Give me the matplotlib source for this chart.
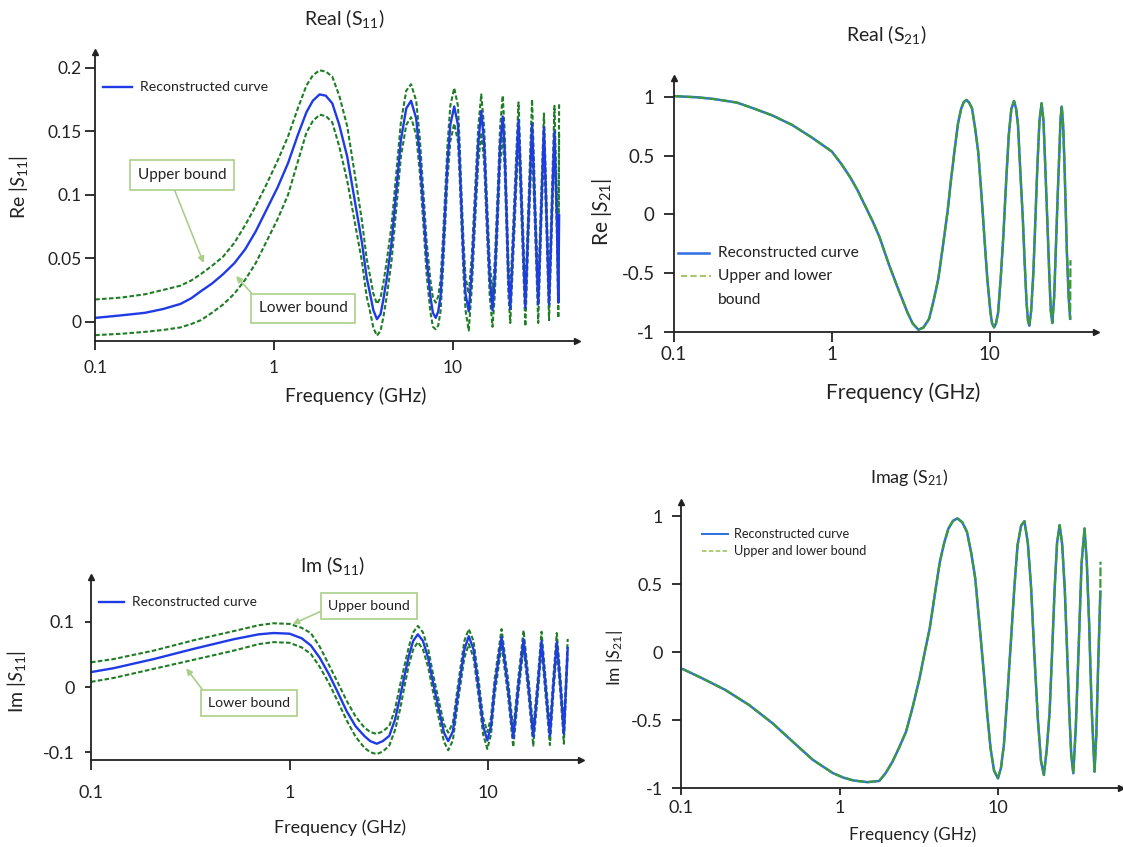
import matplotlib
matplotlib.use("Agg")
import matplotlib.pyplot as plt
from matplotlib.lines import Line2D
from matplotlib.ticker import NullLocator

W, H = 1123, 847
plt.rcParams['font.family'] = ['Lato', 'DejaVu Sans']
plt.rcParams['mathtext.fontset'] = 'custom'
plt.rcParams['mathtext.rm'] = 'Lato'
plt.rcParams['mathtext.it'] = 'Lato:italic'
plt.rcParams['mathtext.bf'] = 'Lato:bold'

# ---------------- data: Real(S11) ----------------
re11_freq = [0.10, 0.14, 0.19, 0.24, 0.30, 0.345, 0.39, 0.45, 0.52, 0.60, 0.69,
             0.79, 0.90, 1.05, 1.20, 1.36, 1.52, 1.65, 1.80, 1.95, 2.12,
             2.32, 2.57, 2.82, 3.11, 3.30, 3.45, 3.60, 3.77, 3.95, 4.10,
             4.30, 4.55, 4.85, 5.13, 5.50, 5.85, 6.25, 6.55, 6.85, 7.15,
             7.50, 7.75, 8.04, 8.30, 8.55, 8.80, 9.06, 9.35, 9.70, 10.2,
             10.7, 10.95, 11.2, 11.5, 11.8, 12.3, 12.8, 13.3, 13.9, 14.45,
             15.0, 15.5, 16.1, 16.7, 17.2, 17.8, 18.4, 19.05, 19.5, 20.0,
             20.5, 21.0, 22.15, 23.35, 24.4, 25.5, 26.6, 27.8, 28.9, 30.1,
             31.2, 32.4, 33.5, 34.6, 35.8, 37.1, 38.3, 39.0, 39.4]
re11_recon = [0.003, 0.005, 0.007, 0.010, 0.014, 0.0185, 0.024, 0.030, 0.0375, 0.046, 0.057,
              0.071, 0.087, 0.106, 0.125, 0.147, 0.165, 0.174, 0.179, 0.178, 0.172,
              0.155, 0.130, 0.097, 0.062, 0.035, 0.022, 0.009, 0.002, 0.006, 0.018,
              0.036, 0.062, 0.105, 0.143, 0.168, 0.174, 0.160, 0.130, 0.090, 0.050,
              0.020, 0.007, 0.003, 0.008, 0.020, 0.050, 0.086, 0.125, 0.155, 0.1695,
              0.155, 0.125, 0.089, 0.050, 0.022, 0.008, 0.040, 0.087, 0.140, 0.166,
              0.140, 0.088, 0.035, 0.009, 0.035, 0.085, 0.138, 0.1616, 0.138, 0.086,
              0.035, 0.010, 0.085, 0.1587, 0.085, 0.011, 0.084, 0.156, 0.085, 0.0136,
              0.083, 0.153, 0.083, 0.0136, 0.082, 0.150, 0.080, 0.015, 0.084]
re11_upper = [0.0175, 0.019, 0.0216, 0.025, 0.0284, 0.0325, 0.0375, 0.044, 0.0513, 0.062, 0.076,
              0.091, 0.107, 0.127, 0.146, 0.168, 0.186, 0.194, 0.198, 0.197, 0.193,
              0.178, 0.154, 0.118, 0.079, 0.050, 0.036, 0.022, 0.014, 0.019, 0.031,
              0.050, 0.076, 0.119, 0.157, 0.182, 0.187, 0.174, 0.144, 0.103, 0.063,
              0.033, 0.019, 0.015, 0.020, 0.033, 0.063, 0.099, 0.139, 0.170, 0.184,
              0.170, 0.139, 0.102, 0.063, 0.035, 0.022, 0.053, 0.100, 0.153, 0.179,
              0.153, 0.101, 0.048, 0.022, 0.048, 0.098, 0.152, 0.178, 0.152, 0.099,
              0.048, 0.022, 0.098, 0.1727, 0.098, 0.022, 0.097, 0.175, 0.098, 0.025,
              0.096, 0.164, 0.096, 0.025, 0.095, 0.170, 0.093, 0.027, 0.173]
re11_lower = [-0.0106, -0.0095, -0.008, -0.0065, -0.0045, -0.0018, 0.0012, 0.007, 0.0136, 0.022, 0.033,
              0.046, 0.062, 0.081, 0.100, 0.126, 0.149, 0.158, 0.163, 0.162, 0.157,
              0.138, 0.111, 0.080, 0.047, 0.020, 0.008, -0.005, -0.011, -0.007, 0.004,
              0.022, 0.048, 0.091, 0.130, 0.155, 0.161, 0.147, 0.117, 0.077, 0.037,
              0.008, -0.004, -0.006, -0.003, 0.008, 0.037, 0.073, 0.112, 0.142, 0.156,
              0.142, 0.112, 0.076, 0.037, 0.009, -0.007, 0.027, 0.074, 0.125, 0.149,
              0.125, 0.075, 0.021, -0.004, 0.021, 0.072, 0.123, 0.146, 0.123, 0.073,
              0.021, -0.001, 0.072, 0.1458, 0.072, -0.0036, 0.071, 0.142, 0.072, -0.001,
              0.070, 0.138, 0.070, 0.0012, 0.069, 0.142, 0.067, 0.003, 0.150]

# ---------------- data: Real(S21) ----------------
re21_freq = [0.10, 0.14, 0.18, 0.25, 0.318, 0.42, 0.56, 0.75, 1.00, 1.15,
             1.31, 1.45, 1.58, 1.82, 2.00, 2.31, 2.63, 3.01, 3.25, 3.53,
             3.80, 4.13, 4.40, 4.72, 5.05, 5.40, 5.70, 6.04, 6.30, 6.60,
             6.85, 7.13, 7.40, 7.72, 8.05, 8.45, 8.85, 9.23, 9.65, 10.1,
             10.35, 10.65, 10.95, 11.3, 11.75, 12.2, 12.7, 13.2, 13.7, 14.25,
             14.7, 15.1, 15.6, 16.2, 16.65, 17.1, 17.45, 17.8, 18.3, 18.9,
             19.45, 20.0, 20.65, 21.3, 21.9, 22.5, 23.15, 23.8, 24.35, 24.9,
             25.6, 26.4, 27.0, 27.6, 28.1, 28.6, 29.2, 29.8, 30.8, 31.6,
             32.3]
re21_recon = [1.01, 1.00, 0.985, 0.955, 0.906, 0.845, 0.764, 0.655, 0.537, 0.43,
              0.315, 0.21, 0.107, -0.063, -0.19, -0.435, -0.635, -0.835, -0.93, -0.983,
              -0.965, -0.89, -0.74, -0.55, -0.27, 0.02, 0.31, 0.59, 0.78, 0.906,
              0.96, 0.977, 0.955, 0.906, 0.75, 0.535, 0.18, -0.178, -0.55, -0.835,
              -0.93, -0.963, -0.93, -0.835, -0.53, -0.178, 0.28, 0.678, 0.9, 0.969,
              0.9, 0.763, 0.38, -0.036, -0.42, -0.749, -0.9, -0.949, -0.82, -0.49,
              -0.05, 0.392, 0.8, 0.949, 0.8, 0.392, -0.05, -0.49, -0.82, -0.926,
              -0.7, -0.178, 0.2, 0.535, 0.82, 0.92, 0.75, 0.392, -0.32, -0.7,
              -0.89]
re21_bound_freq = re21_freq + [32.45]
re21_bound = re21_recon + [-0.39]

# ---------------- data: Im(S11) ----------------
im11_freq = [0.10, 0.13, 0.207, 0.33, 0.524, 0.70, 0.83, 1.00, 1.15, 1.28,
             1.42, 1.58, 1.75, 1.94, 2.15, 2.38, 2.55, 2.75, 2.95, 3.18,
             3.40, 3.60, 3.80, 4.00, 4.20, 4.43, 4.70, 5.00, 5.30, 5.68,
             6.00, 6.30, 6.65, 7.13, 7.60, 8.00, 8.45, 8.95, 9.45, 9.92,
             10.35, 10.8, 11.7, 12.6, 13.4, 14.2, 15.1, 16.0, 16.9, 17.8,
             18.6, 19.5, 20.5, 21.3, 22.2, 23.2, 24.1, 25.2]
im11_recon = [0.023, 0.029, 0.043, 0.0588, 0.0735, 0.081, 0.083, 0.082, 0.075, 0.064,
              0.045, 0.0196, -0.008, -0.037, -0.060, -0.075, -0.083, -0.087, -0.083, -0.075,
              -0.050, -0.016, 0.018, 0.049, 0.071, 0.081, 0.071, 0.044, 0.005, -0.037,
              -0.070, -0.083, -0.068, 0.0, 0.058, 0.078, 0.058, 0.0, -0.060, -0.082,
              -0.060, 0.0, 0.077, 0.0, -0.078, 0.0, 0.0735, 0.0, -0.076, 0.0,
              0.071, 0.0, -0.075, 0.0, 0.069, 0.0, -0.072, 0.060]
im11_upper = [0.038, 0.043, 0.056, 0.072, 0.086, 0.095, 0.098, 0.097, 0.091, 0.083,
              0.062, 0.034, 0.007, -0.021, -0.045, -0.062, -0.069, -0.072, -0.068, -0.060,
              -0.034, 0.002, 0.034, 0.063, 0.084, 0.094, 0.084, 0.058, 0.018, -0.024,
              -0.057, -0.070, -0.055, 0.013, 0.071, 0.089, 0.071, 0.013, -0.047, -0.069,
              -0.047, 0.013, 0.089, 0.013, -0.066, 0.013, 0.087, 0.013, -0.064, 0.013,
              0.085, 0.013, -0.063, 0.013, 0.083, 0.013, -0.060, 0.074]
im11_lower = [0.008, 0.014, 0.028, 0.042, 0.056, 0.066, 0.069, 0.068, 0.061, 0.051,
              0.031, 0.006, -0.022, -0.051, -0.076, -0.093, -0.100, -0.103, -0.099, -0.090,
              -0.066, -0.035, 0.002, 0.035, 0.058, 0.069, 0.058, 0.030, -0.009, -0.051,
              -0.084, -0.097, -0.082, -0.013, 0.045, 0.066, 0.045, -0.013, -0.073, -0.095,
              -0.073, -0.013, 0.065, -0.013, -0.092, -0.013, 0.062, -0.013, -0.090, -0.013,
              0.060, -0.013, -0.089, -0.013, 0.058, -0.013, -0.087, 0.050]

# ---------------- data: Imag(S21) ----------------
im21_freq = [0.103, 0.135, 0.19, 0.268, 0.377, 0.505, 0.677, 0.907, 1.05, 1.22,
             1.50, 1.78, 1.95, 2.16, 2.38, 2.63, 2.90, 3.20, 3.45, 3.71,
             4.00, 4.30, 4.57, 4.87, 5.20, 5.55, 5.95, 6.37, 6.78, 7.19,
             7.65, 8.13, 8.55, 8.98, 9.45, 10.0, 10.45, 10.9, 11.5, 12.1,
             12.7, 13.3, 14.0, 14.7, 15.45, 16.2, 17.0, 17.9, 18.7, 19.5,
             20.3, 21.2, 22.0, 22.8, 23.6, 24.5, 25.4, 26.4, 27.3, 28.2,
             29.0, 29.9, 31.0, 32.2, 33.7, 35.2, 36.4, 37.6, 39.0, 40.7,
             41.8, 42.8, 44.3]
im21_recon = [-0.125, -0.19, -0.277, -0.387, -0.521, -0.656, -0.79, -0.888, -0.92, -0.942,
              -0.955, -0.946, -0.89, -0.804, -0.70, -0.584, -0.40, -0.192, 0.0, 0.175,
              0.43, 0.665, 0.80, 0.909, 0.965, 0.983, 0.955, 0.885, 0.73, 0.542,
              0.20, -0.143, -0.45, -0.706, -0.87, -0.927, -0.85, -0.682, -0.30, 0.10,
              0.48, 0.787, 0.93, 0.963, 0.80, 0.469, -0.03, -0.51, -0.80, -0.902,
              -0.72, -0.437, 0.02, 0.469, 0.80, 0.934, 0.80, 0.469, 0.02, -0.437,
              -0.75, -0.89, -0.55, -0.021, 0.65, 0.909, 0.65, 0.224, -0.40, -0.878,
              -0.6, -0.143, 0.444]
im21_bound_freq = im21_freq + [44.4]
im21_bound = im21_recon + [0.665]

freq_ticks = [0.1, 1, 10]
freq_ticklabels = ['0.1', '1', '10']

# ---------------- figure ----------------
fig = plt.figure(figsize=(W / 100, H / 100), dpi=100)


def fx(px):
    return px / W


def fy(py):
    return 1 - py / H


def axes_px(l, r, t, b):
    return fig.add_axes([fx(l), fy(b), (r - l) / W, (b - t) / H])


BLUE = '#1f3be6'
DGREEN = '#1f7d25'
BLUE2 = '#2f6fe0'
GREEN2 = '#3c9a3c'
LGREEN = '#a9cf8a'
INK = '#222222'


def style(ax, yticks, ylabels, fs, xlen, ylen, xpad, ypad):
    ax.set_xscale('log')
    ax.set_xticks(freq_ticks)
    ax.set_xticklabels(freq_ticklabels)
    ax.xaxis.set_minor_locator(NullLocator())
    ax.set_yticks(yticks)
    ax.set_yticklabels(ylabels)
    for s in ['top', 'right']:
        ax.spines[s].set_visible(False)
    for s in ['left', 'bottom']:
        ax.spines[s].set_linewidth(1.3)
        ax.spines[s].set_color(INK)
    ax.tick_params(axis='x', direction='out', length=xlen, width=1.3, pad=xpad,
                   labelsize=fs, colors=INK)
    ax.tick_params(axis='y', direction='out', length=ylen, width=1.3, pad=ypad,
                   labelsize=fs, colors=INK)
    ax.plot([0], [1], marker='^', ms=5, color=INK, transform=ax.transAxes,
            clip_on=False)
    ax.plot([1], [0], marker='>', ms=5, color=INK, transform=ax.transAxes,
            clip_on=False)
    ax.patch.set_alpha(0)


def legline(x0, x1, y, **kw):
    fig.add_artist(Line2D([fx(x0), fx(x1)], [fy(y), fy(y)],
                          transform=fig.transFigure, **kw))


def boxnote(ax, text, cx, cy, px, py, relpos, fs):
    ax.annotate(text, xy=(fx(px), fy(py)), xycoords='figure fraction',
                xytext=(fx(cx), fy(cy)), textcoords='figure fraction',
                ha='center', va='center', fontsize=fs, color=INK,
                bbox=dict(boxstyle='square,pad=0.5', fc='white', ec=LGREEN, lw=1.2),
                arrowprops=dict(arrowstyle='-|>', color=LGREEN, lw=1.2,
                                mutation_scale=9, relpos=relpos,
                                shrinkA=0, shrinkB=0),
                zorder=10)


# ---- Plot 1 : Real(S11)
ax1 = axes_px(95.2, 577, 52, 341)
style(ax1, [0, 0.05, 0.1, 0.15, 0.2], ['0', '0.05', '0.1', '0.15', '0.2'],
      12.5, 6.5, 7, 7, 2.6)
ax1.plot(re11_freq, re11_upper, color=DGREEN, lw=1.5, dashes=(2.2, 1.1))
ax1.plot(re11_freq, re11_lower, color=DGREEN, lw=1.5, dashes=(2.2, 1.1))
ax1.plot(re11_freq, re11_recon, color=BLUE, lw=1.7)
ax1.set_xlim(0.1, 49.6)
ax1.set_ylim(-0.0152, 0.2124)
legline(103, 132, 87, color=BLUE, lw=1.7)
fig.text(fx(140), fy(87), 'Reconstructed curve', fontsize=10.2, va='center',
         ha='left', color=INK)
boxnote(ax1, 'Upper bound', 182, 175, 203.6, 263, (0.38, 0.0), 11)
boxnote(ax1, 'Lower bound', 303.4, 308.3, 236, 276, (0.0, 1.0), 11)
fig.text(fx(344), fy(18), r'Real (S$_{\mathregular{11}}$)', fontsize=14,
         ha='center', va='center', color=INK)
fig.text(fx(356), fy(396), 'Frequency (GHz)', fontsize=13.8, ha='center',
         va='center', color=INK)
fig.text(fx(19), fy(187), r'Re |$S_{\mathregular{11}}$|', fontsize=14,
         rotation=90, ha='center', va='center', color=INK)

# ---- Plot 2 : Real(S21)
ax2 = axes_px(674, 1096, 78.3, 331.7)
style(ax2, [-1, -0.5, 0, 0.5, 1], ['-1', '-0.5', '0', '0.5', '1'],
      13.5, 7, 7.5, 3.6, 6.3)
ax2.plot(re21_freq, re21_recon, color=BLUE2, lw=1.8)
ax2.plot(re21_bound_freq, re21_bound, color=GREEN2, lw=1.6, dashes=(4, 1.2))
ax2.set_xlim(0.1, 47.1)
ax2.set_ylim(-1, 1.162)
legline(677.6, 709.3, 253.3, color=BLUE2, lw=1.8)
legline(681, 711, 276, color='#a6c86a', lw=1.5, dashes=(3, 1.5))
fig.text(fx(718), fy(253.3), 'Reconstructed curve', fontsize=11.2, va='center',
         ha='left', color=INK)
fig.text(fx(718), fy(276), 'Upper and lower', fontsize=11.2, va='center',
         ha='left', color=INK)
fig.text(fx(718), fy(300), 'bound', fontsize=11.2, va='center',
         ha='left', color=INK)
fig.text(fx(886), fy(34), r'Real (S$_{\mathregular{21}}$)', fontsize=14,
         ha='center', va='center', color=INK)
fig.text(fx(903), fy(393), 'Frequency (GHz)', fontsize=15, ha='center',
         va='center', color=INK)
fig.text(fx(602), fy(212), r'Re |$S_{\mathregular{21}}$|', fontsize=15,
         rotation=90, ha='center', va='center', color=INK)

# ---- Plot 3 : Im(S11)
ax3 = axes_px(91, 581, 576.7, 760)
style(ax3, [-0.1, 0, 0.1], ['-0.1', '0', '0.1'],
      13, 7, 4.6, 11, 7)
ax3.plot(im11_freq, im11_upper, color=DGREEN, lw=1.5, dashes=(2.2, 1.1))
ax3.plot(im11_freq, im11_lower, color=DGREEN, lw=1.5, dashes=(2.2, 1.1))
ax3.plot(im11_freq, im11_recon, color=BLUE, lw=1.7)
ax3.set_xlim(0.1, 29.4)
ax3.set_ylim(-0.112, 0.1695)
legline(98.6, 124, 602.3, color=BLUE, lw=1.7)
fig.text(fx(131.7), fy(602.3), 'Reconstructed curve', fontsize=9.8, va='center',
         ha='left', color=INK)
boxnote(ax3, 'Upper bound', 368.7, 605.8, 292.7, 624, (0.0, 0.3), 10.2)
boxnote(ax3, 'Lower bound', 248.9, 702.8, 186.2, 668.3, (0.0, 1.0), 10.2)
fig.text(fx(333), fy(565), r'Im (S$_{\mathregular{11}}$)', fontsize=14,
         ha='center', va='center', color=INK)
fig.text(fx(340.5), fy(828), 'Frequency (GHz)', fontsize=12.9, ha='center',
         va='center', color=INK)
fig.text(fx(17), fy(682), r'Im |$S_{\mathregular{11}}$|', fontsize=14,
         rotation=90, ha='center', va='center', color=INK)

# ---- Plot 4 : Imag(S21)
ax4 = axes_px(681.1, 1121, 501.7, 788.3)
style(ax4, [-1, -0.5, 0, 0.5, 1], ['-1', '-0.5', '0', '0.5', '1'],
      13, 5, 6.8, 3.6, 6.2)
ax4.plot(im21_freq, im21_recon, color=BLUE2, lw=1.8)
ax4.plot(im21_bound_freq, im21_bound, color=GREEN2, lw=1.6, dashes=(4, 1.2))
ax4.set_xlim(0.1, 59.8)
ax4.set_ylim(-1, 1.106)
legline(702, 727.7, 534, color=BLUE2, lw=1.4)
legline(702, 727.7, 550.7, color='#a6c86a', lw=1.3, dashes=(2.5, 1.3))
fig.text(fx(734.5), fy(534), 'Reconstructed curve', fontsize=9.2, va='center',
         ha='left', color=INK)
fig.text(fx(734.5), fy(550.7), 'Upper and lower bound', fontsize=9.2, va='center',
         ha='left', color=INK)
fig.text(fx(909.5), fy(477), r'Imag (S$_{\mathregular{21}}$)', fontsize=13,
         ha='center', va='center', color=INK)
fig.text(fx(913), fy(835), 'Frequency (GHz)', fontsize=12.3, ha='center',
         va='center', color=INK)
fig.text(fx(614.5), fy(658), r'Im |$S_{\mathregular{21}}$|', fontsize=12.5,
         rotation=90, ha='center', va='center', color=INK)

fig.savefig('out.png', dpi=100)
